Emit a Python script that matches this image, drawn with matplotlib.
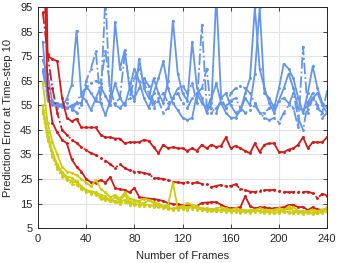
import matplotlib
matplotlib.use("Agg")
import matplotlib.pyplot as plt

frames = [4, 8, 12, 16, 20, 24, 28, 32, 36, 40, 44, 48, 52, 56, 60, 64, 68, 72, 76, 80,
          84, 88, 92, 96, 100, 104, 108, 112, 116, 120, 124, 128, 132, 136, 140, 144, 148, 152, 156, 160,
          164, 168, 172, 176, 180, 184, 188, 192, 196, 200, 204, 208, 212, 216, 220, 224, 228, 232, 236, 240]

blue_solid_1 = [81, 57, 57, 55, 54.5, 57.8, 63.5, 85.5, 59, 57, 53, 58, 62.6, 59, 55, 89, 70, 77.5, 62, 57,
                74, 62, 58, 66, 60, 56, 65, 89.6, 68, 60, 57, 81, 62, 58, 52, 56, 100, 58, 60, 55,
                52, 53, 58, 55, 68, 95, 60, 58, 54, 62, 72, 70, 66, 58, 52, 60, 71, 62, 56, 54]
blue_solid_2 = [73.5, 68, 56, 55, 55.5, 54, 55, 56, 56, 63, 60, 57, 56, 51, 57, 64, 58, 55, 62, 70,
                65, 58, 54, 60, 66, 73, 62, 56, 53, 50, 49, 50, 60, 56, 54, 58, 64, 56, 52, 50,
                50, 53, 60, 66, 95, 70, 62, 56, 52, 57, 62, 68, 62, 54, 53, 55, 58, 60, 55, 52]
blue_dash_1 = [70, 60, 56, 54, 55, 56, 54, 52, 55, 65, 70, 77, 56, 100, 55, 56, 58, 76, 64, 58,
               62, 66, 63, 56, 58, 60, 56, 58, 62, 63, 60, 64, 56, 88, 55, 54, 52, 58, 54, 60,
               62, 63, 62, 60, 56, 52, 52, 54, 55, 57, 58, 56, 54, 46, 79, 52, 58, 54, 52, 61]
blue_dash_2 = [69, 58, 55, 56, 55, 54, 53, 56, 60, 62, 64, 65, 64, 77, 62, 55, 54, 56, 58, 66,
               70, 64, 60, 54, 57, 52, 54, 58, 60, 56, 54, 58, 60, 62, 70, 52, 54, 56, 54, 57,
               58, 54, 52, 53, 55, 52, 50, 49, 50, 48, 52, 55, 60, 50, 45, 56, 60, 55, 50, 52]

red_solid_upper = [200, 75, 74, 73, 58, 50, 48.5, 49.5, 46, 46, 46, 46, 43, 42, 42, 41.5, 41.5, 39.5, 40, 40,
                   40, 41, 40.5, 38, 35.5, 39, 37.5, 38, 37.5, 37.5, 36.5, 37.5, 36.5, 39, 37.5, 39, 38, 38.5, 42, 37.5,
                   38.5, 37.5, 36.5, 35.5, 39.5, 36, 39, 39.5, 39.5, 36, 36, 37, 37.5, 39, 42, 37.5, 40, 40, 40, 42]
red_dashdot = [93, 76, 62, 52, 45, 43, 41, 39.7, 38, 36.8, 35.5, 34.8, 33.5, 32.5, 31, 29.5, 31, 29.5, 28.5, 28,
               27.9, 27.4, 27, 25.5, 25.2, 25, 24.6, 23.8, 23.6, 23.4, 23.6, 23.2, 23.6, 23, 22.8, 21.7, 22.2, 22.6, 22, 22.2,
               22.8, 21, 20.5, 19.8, 19.7, 20.3, 20.6, 20.4, 20.6, 20.2, 19.8, 19.6, 19.7, 19.8, 19.7, 19.8, 19.2, 17.2, 19, 18.2]
red_solid_lower = [130, 62, 48, 44, 41, 39.5, 33, 30, 28, 25, 23.6, 23.4, 24.6, 23.5, 25.8, 21.3, 20.8, 20.5, 19.5, 21.3,
                   17.7, 17.2, 17, 16.8, 16.5, 16, 15.2, 14.8, 14.6, 14.4, 14.3, 14.1, 14, 15.2, 15.4, 15.5, 15.6, 14.5, 13.5, 13,
                   13.2, 13.5, 18, 14, 13, 13.5, 13.4, 13, 13, 13.3, 13.5, 14.4, 14.4, 13.5, 13.6, 12.3, 13.5, 12.6, 12.4, 12.8]

yellow_a = [64, 48, 40, 35, 30, 28, 27.5, 26.5, 25, 23.5, 22, 24.6, 21, 19.5, 17.5, 18.5, 17, 19.5, 17, 16.5,
            16, 17, 16.5, 15.5, 15, 14, 14.5, 23.5, 13, 13.5, 13.5, 14, 13.8, 13, 13, 12.5, 13, 13.5, 12.5, 12.5,
            12, 12.5, 12.3, 12, 12.5, 13, 12.5, 12, 12.5, 13, 12.5, 12.8, 13.5, 12, 11.5, 12, 12.5, 12, 12.5, 13]
yellow_b = [55, 44, 36, 31, 28, 26, 25.5, 24, 22, 20.5, 20, 19.5, 18.5, 18, 16, 17.5, 16, 18.5, 15.5, 16,
            15.5, 15, 16.5, 15, 14.5, 14, 13.5, 12.5, 13.5, 14, 15.2, 14.5, 13.5, 12.5, 12.5, 12.8, 12.5, 12, 13, 12.5,
            13, 12, 11.5, 12.5, 12, 12, 11.5, 12.5, 12, 12.5, 12.2, 13.8, 12, 11.8, 12, 11.5, 12.5, 11.5, 12, 13.5]
yellow_c = [53, 42, 35, 30, 27, 25, 24, 23.5, 21.5, 20, 19.5, 19, 17.5, 17, 16.5, 16, 15.5, 16.5, 15, 15,
            14.5, 14.5, 14.5, 14, 14, 13.5, 13, 13, 13, 13.2, 13, 13.5, 13, 12.5, 12.3, 12, 12, 12.2, 12, 11.8,
            12, 11.5, 11.8, 11.5, 12, 11.8, 11.5, 11.5, 11.2, 11.5, 11.8, 11.5, 11.2, 11.5, 11, 11.5, 11, 11.2, 11.5, 12]
yellow_dot = [52, 41, 34, 29, 26, 24.5, 23, 22.5, 21, 19.5, 19, 18.5, 17, 16.5, 16, 15.5, 15, 15.5, 14.5, 14.5,
              14, 14, 13.8, 13.5, 13.5, 13, 12.8, 12.5, 12.5, 12.6, 12.5, 12.8, 12.5, 12.2, 12, 11.8, 11.8, 11.8, 11.6, 11.5,
              11.6, 11.2, 11.4, 11.2, 11.5, 11.4, 11.2, 11.2, 11, 11.2, 11.4, 11.2, 11, 11.2, 10.8, 11.2, 10.8, 11, 11.2, 11.6]

xticks = [0, 40, 80, 120, 160, 200, 240]
yticks = [5, 15, 25, 35, 45, 55, 65, 75, 85, 95]

plt.rcParams['font.family'] = ['Liberation Sans', 'DejaVu Sans']

BLUE = '#6495ed'
RED = '#d81818'
YEL = '#cccc10'

fig = plt.figure(figsize=(3.39, 2.63), dpi=100)
ax = fig.add_axes([0.112, 0.133, 0.853, 0.839])

lw = 1.3
ms = 2.2
ax.plot(frames, blue_dash_2, color=BLUE, lw=lw, ls='-.', marker='.', ms=ms)
ax.plot(frames, blue_dash_1, color=BLUE, lw=lw, ls='-.', marker='.', ms=ms)
ax.plot(frames, blue_solid_2, color=BLUE, lw=lw, ls='-', marker='.', ms=ms)
ax.plot(frames, blue_solid_1, color=BLUE, lw=lw, ls='-', marker='.', ms=ms)
ax.plot(frames, red_solid_upper, color=RED, lw=lw, ls='-', marker='.', ms=ms)
ax.plot(frames, red_dashdot, color=RED, lw=lw, ls='-.', marker='.', ms=ms)
ax.plot(frames, red_solid_lower, color=RED, lw=lw, ls='-', marker='.', ms=ms)
ax.plot(frames, yellow_dot, color=YEL, lw=lw, ls=':', marker='.', ms=ms)
ax.plot(frames, yellow_c, color=YEL, lw=lw, ls='-', marker='.', ms=ms)
ax.plot(frames, yellow_b, color=YEL, lw=lw, ls='-', marker='.', ms=ms)
ax.plot(frames, yellow_a, color=YEL, lw=lw, ls='-', marker='.', ms=ms)

ax.set_xlim(0, 240)
ax.set_ylim(5, 95)
ax.set_xticks(xticks)
ax.set_yticks(yticks)
ax.grid(True, color='#e3e3e3', lw=0.8)
ax.set_axisbelow(True)
ax.tick_params(direction='in', length=3, width=0.6, labelsize=8, colors='#262626',
               top=True, right=True, pad=4)
for s in ax.spines.values():
    s.set_color('#262626')
    s.set_linewidth(0.7)
ax.set_xlabel('Number of Frames', fontsize=8, color='#262626', labelpad=5)
ax.set_ylabel('Prediction Error at Time-step 10', fontsize=8, color='#262626', labelpad=5)

fig.savefig('out.png', dpi=100)
